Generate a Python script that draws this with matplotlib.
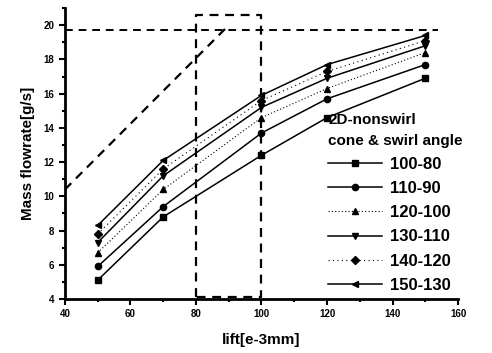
import matplotlib
matplotlib.use("Agg")
import matplotlib.pyplot as plt
from matplotlib.ticker import MultipleLocator

plt.rcParams['font.family'] = ['Liberation Sans', 'DejaVu Sans']
plt.rcParams['font.weight'] = 'bold'

# lift values [e-3mm]
lift = [50, 70, 100, 120, 150]

# mass flowrate [g/s] per cone & swirl angle
labels = ["100-80", "110-90", "120-100", "130-110", "140-120", "150-130"]
flow_100_80 = [5.1, 8.8, 12.4, 14.6, 16.9]
flow_110_90 = [5.9, 9.4, 13.7, 15.7, 17.7]
flow_120_100 = [6.7, 10.4, 14.6, 16.3, 18.4]
flow_130_110 = [7.3, 11.2, 15.2, 16.9, 18.8]
flow_140_120 = [7.8, 11.6, 15.6, 17.3, 19.1]
flow_150_130 = [8.3, 12.1, 15.9, 17.7, 19.4]
series = [flow_100_80, flow_110_90, flow_120_100, flow_130_110, flow_140_120, flow_150_130]

markers = ['s', 'o', '^', 'v', 'D', '<']
styles = ['-', '-', (0, (1, 2)), '-', (0, (1, 3)), '-']
widths = [1.1, 1.1, 0.8, 1.1, 0.8, 1.1]
msizes = [4, 4.5, 4.5, 5, 4, 5]

# 2D nonswirl reference lines
diag_x = [40, 90]
diag_y = [10.4, 20.0]
level_y = 19.75
box_x = [80, 100]
box_y = [4.1, 20.6]

fig = plt.figure(figsize=(4.92, 3.53), dpi=100)
ax = fig.add_axes([0.132, 0.153, 0.799, 0.824])

for vals, lab, m, ls, lw, ms in zip(series, labels, markers, styles, widths, msizes):
    ax.plot(lift, vals, color='black', linestyle=ls, linewidth=lw,
            marker=m, markersize=ms, label=lab)

ax.plot(diag_x, diag_y, color='black', linestyle=(0, (4, 3)), linewidth=1.6)
ax.plot([40, 154], [level_y, level_y], color='black', linestyle=(0, (4, 3)), linewidth=1.4)
ax.plot([box_x[0], box_x[0], box_x[1], box_x[1], box_x[0]],
        [box_y[0], box_y[1], box_y[1], box_y[0], box_y[0]],
        color='black', linestyle=(0, (4, 3)), linewidth=1.6)

ax.set_xlim(40, 160)
ax.set_ylim(4, 21)
ax.xaxis.set_major_locator(MultipleLocator(20))
ax.xaxis.set_minor_locator(MultipleLocator(10))
ax.yaxis.set_major_locator(MultipleLocator(2))
ax.yaxis.set_minor_locator(MultipleLocator(1))
ax.tick_params(which='both', direction='out', width=1.5, labelsize=7)
ax.tick_params(which='major', length=4)
ax.tick_params(which='minor', length=2.5)

for s in ['top', 'right']:
    ax.spines[s].set_visible(False)
for s in ['left', 'bottom']:
    ax.spines[s].set_linewidth(2)

ax.set_xlabel('lift[e-3mm]', fontsize=11, fontweight='bold', labelpad=10)
ax.set_ylabel('Mass flowrate[g/s]', fontsize=11, fontweight='bold', labelpad=6)

leg = ax.legend(loc='lower right', bbox_to_anchor=(1.05, -0.03), frameon=False,
                title='2D-nonswirl\ncone & swirl angle', fontsize=12,
                handlelength=3.2, labelspacing=0.55, handletextpad=0.5)
leg.get_title().set_fontsize(11)
leg.get_title().set_fontweight('bold')
leg.get_title().set_linespacing(1.6)
leg._legend_box.align = 'left'

fig.savefig('out.png', dpi=100)
